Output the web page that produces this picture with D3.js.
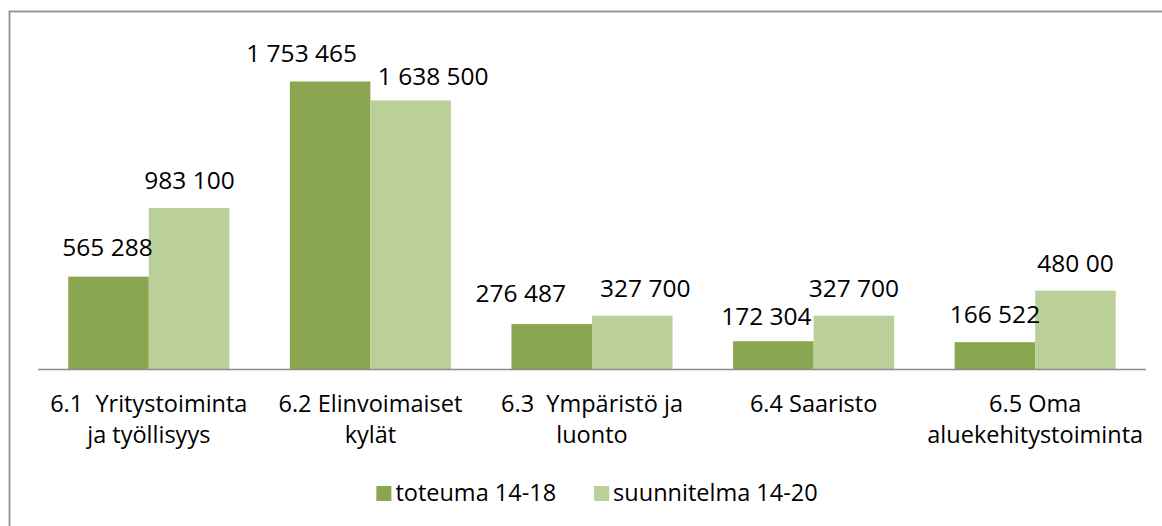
<!DOCTYPE html>
<html>
<head>
<meta charset="utf-8">
<script src="https://cdn.jsdelivr.net/npm/d3@7"></script>
<style>
  body { margin: 0; background: #fff; }
  svg { display: block; }
  text { font-family: "Open Sans", "Noto Sans", sans-serif; fill: #000; }
</style>
</head>
<body>
<svg width="1162" height="526"></svg>
<script>
const categories = [
    ['6.1  Yritystoiminta', 'ja työllisyys'],
    ['6.2 Elinvoimaiset', 'kylät'],
    ['6.3  Ympäristö ja', 'luonto'],
    ['6.4 Saaristo'],
    ['6.5 Oma', 'aluekehitystoiminta']
];
const series_names = ['toteuma 14-18', 'suunnitelma 14-20'];
const toteuma = [565288, 1753465, 276487, 172304, 166522];
const suunnitelma = [983100, 1638500, 327700, 327700, 480000];
// labels as printed in the chart (last one is missing a zero in the original)
const toteuma_labels = ['565 288', '1 753 465', '276 487', '172 304', '166 522'];
const suunnitelma_labels = ['983 100', '1 638 500', '327 700', '327 700', '480 00'];

const colors = ['#8aa650', '#bbcf99'];

// label nudges (excel moved some overlapping labels apart)
const label_dx = [[-1, 0.5], [-28.5, 22.5], [-31, 13], [-7, 0], [0, 0]];
const label_dy = [[-1.5, 0], [0, 3.5], [-2.6, 0], [3, 0], [0, 0]];

let svg = d3.select('svg');

// chart border (runs off the right and bottom edge)
svg.append('rect')
    .attr('x', 9.5).attr('y', 11.5)
    .attr('width', 1200).attr('height', 600)
    .attr('fill', 'none')
    .attr('stroke', '#8f8f8f')
    .attr('stroke-width', 1.8);

let rows = categories.map(function (c, i) {
    return {
        cat: i,
        lines: c,
        values: [
            {cat: i, s: 0, v: toteuma[i], label: toteuma_labels[i]},
            {cat: i, s: 1, v: suunnitelma[i], label: suunnitelma_labels[i]}
        ]
    };
});

let x0 = d3.scaleBand()
    .domain(d3.range(categories.length))
    .range([38, 1146])
    .paddingInner(0.273)
    .paddingOuter(0.1365);

let x1 = d3.scaleBand()
    .domain([0, 1])
    .range([0, x0.bandwidth()]);

let y = d3.scaleLinear()
    .domain([0, 2000000])
    .range([369.5, 41]);

let groups = svg.selectAll('.group').data(rows).enter().append('g')
    .attr('class', 'group')
    .attr('transform', function (d) { return 'translate(' + x0(d.cat) + ',0)'; });

groups.selectAll('rect').data(function (d) { return d.values; }).enter().append('rect')
    .attr('x', function (d) { return x1(d.s); })
    .attr('y', function (d) { return y(d.v); })
    .attr('width', x1.bandwidth())
    .attr('height', function (d) { return y(0) - y(d.v); })
    .attr('fill', function (d) { return colors[d.s]; });

groups.selectAll('.val').data(function (d) { return d.values; }).enter().append('text')
    .attr('class', 'val')
    .attr('x', function (d) { return x1(d.s) + x1.bandwidth() / 2 + label_dx[d.cat][d.s]; })
    .attr('y', function (d) { return y(d.v) - 19 + label_dy[d.cat][d.s]; })
    .attr('text-anchor', 'middle')
    .style('font-size', '24.5px')
    .text(function (d) { return d.label; });

// category axis
svg.append('line')
    .attr('x1', 38).attr('x2', 1146)
    .attr('y1', y(0)).attr('y2', y(0))
    .attr('stroke', '#8c8c8c')
    .attr('stroke-width', 1.6);

groups.each(function (d) {
    let g = d3.select(this);
    d.lines.forEach(function (line, k) {
        g.append('text')
            .attr('x', x0.bandwidth() / 2)
            .attr('y', 411.5 + k * 31.5)
            .attr('text-anchor', 'middle')
            .style('font-size', '23.5px')
            .style('white-space', 'pre')
            .text(line);
    });
});

// legend
let legend = svg.append('g');
let lx = 0;
series_names.forEach(function (name, i) {
    let item = legend.append('g').attr('transform', 'translate(' + lx + ',0)');
    item.append('rect')
        .attr('x', 0).attr('y', 486)
        .attr('width', 15).attr('height', 15)
        .attr('fill', colors[i]);
    let t = item.append('text')
        .attr('x', 19).attr('y', 500.5)
        .style('font-size', '23.5px')
        .text(name);
    lx += 19 + t.node().getComputedTextLength() + 38;
});
let total = lx - 38;
legend.attr('transform', 'translate(' + (597 - total / 2) + ',0)');
</script>
</body>
</html>
